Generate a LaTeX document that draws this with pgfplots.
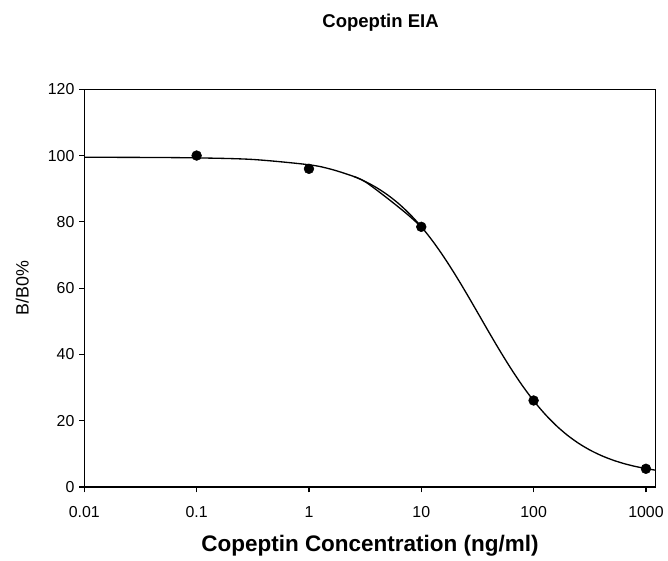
\documentclass[border=0pt]{standalone}
\usepackage{fontspec}
\setmainfont{Liberation Sans}
\usepackage{pgfplots}
\pgfplotsset{compat=1.18}
\begin{document}
\begin{tikzpicture}
\begin{axis}[
  scale only axis, width=432pt, height=300.75pt,
  xmode=log, xmin=0.01, xmax=1220, ymin=0, ymax=120,
  xtick={0.01,0.1,1,10,100,1000}, xticklabels={0.01,0.1,1,10,100,1000},
  ytick={0,20,40,60,80,100,120},
  xminorticks=false, yminorticks=false,
  tick align=outside, tick pos=left, major tick length=4pt,
  axis line style={line width=1.1pt},
  every tick/.style={black, line width=0.9pt},
  /pgf/number format/assume math mode=true,
  tick label style={font=\fontsize{12}{14}\selectfont, text=black},
  xticklabel style={yshift=-7.5pt},
  xlabel={Copeptin Concentration (ng/ml)},
  xlabel style={font=\fontsize{17}{19}\selectfont\bfseries, at={(axis description cs:0.5,0)}, anchor=base, yshift=-49pt},
  ylabel={B/B0\%},
  ylabel style={font=\fontsize{13.5}{15}\selectfont, at={(axis description cs:-0.1088,0.5)}, anchor=center},
  title={Copeptin EIA},
  title style={font=\fontsize{14}{16}\selectfont\bfseries, at={(axis description cs:0.5,1)}, anchor=base, yshift=41pt, xshift=8pt},
]
\addplot[black, line width=1pt, smooth] coordinates {
(0.01,99.48) (0.0316,99.44) (0.1,99.30) (0.316,98.82) (1,97.22) (1.585,95.84)
(2.512,93.68) (3.162,92.19) (3.981,90.36) (5.012,88.13) (6.310,85.45) (7.943,82.26)
(10,78.54) (12.59,74.26) (15.85,69.45) (19.95,64.18) (25.12,58.55) (31.62,52.72)
(39.81,46.84) (50.12,41.10) (63.10,35.64) (79.43,30.59) (100,26.04) (125.9,22.04)
(158.5,18.58) (199.5,15.65) (251.2,13.20) (316.2,11.18) (398.1,9.53) (501.2,8.19)
(631.0,7.11) (794.3,6.25) (1000,5.57) (1218,5.07)
};
\addplot[black, line width=1pt, smooth] coordinates {
(2.512,93.68) (3.2,92.0) (5,87.1) (7.5,82.3) (10,78.5)
};
\addplot[only marks, mark=*, mark size=3.7pt, black] coordinates {
(0.1,100) (1,96) (10,78.5) (100,26.1) (1000,5.5)
};
\end{axis}
\path ([xshift=-63.75pt,yshift=-52.5pt]current axis.south west) rectangle ([xshift=5.25pt,yshift=67.5pt]current axis.north east);
\end{tikzpicture}
\end{document}
